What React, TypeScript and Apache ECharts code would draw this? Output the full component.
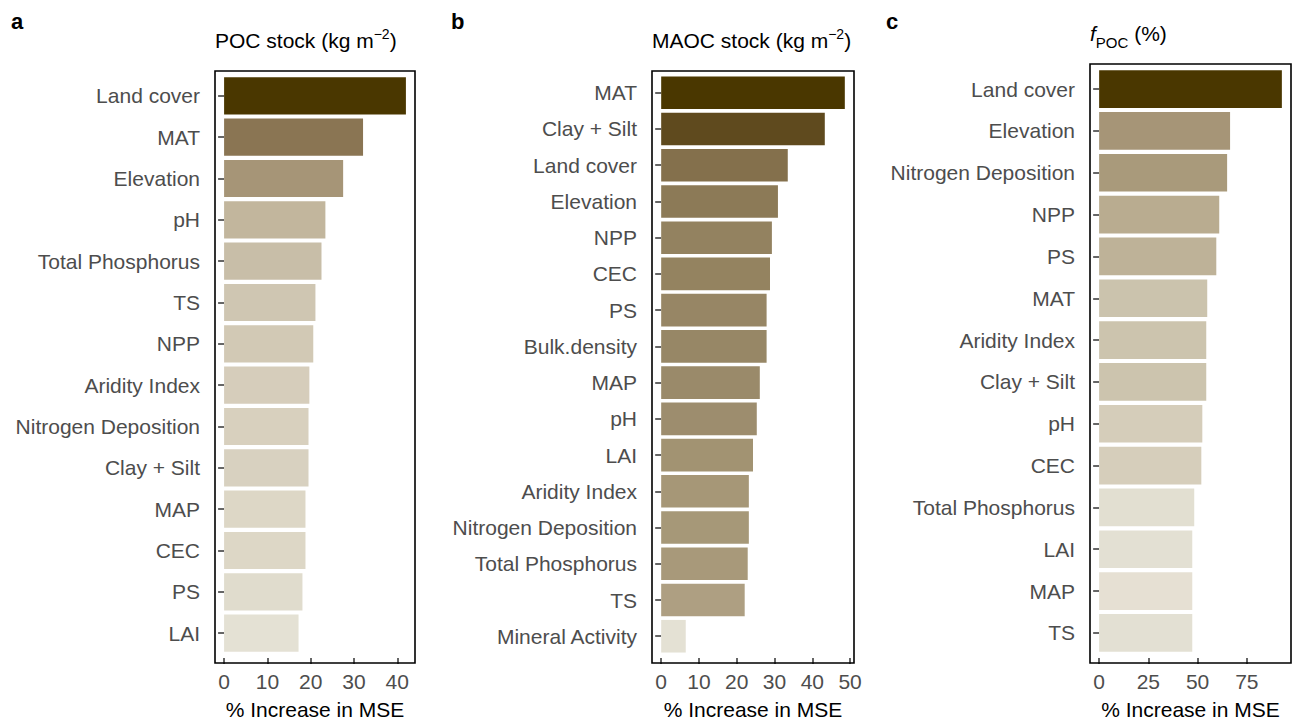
import React, { useEffect, useRef } from "react";
import * as echarts from "echarts";

const catsA = ["Land cover", "MAT", "Elevation", "pH", "Total Phosphorus", "TS", "NPP", "Aridity Index", "Nitrogen Deposition", "Clay + Silt", "MAP", "CEC", "PS", "LAI"];
const valsA = [42.0, 32.1, 27.5, 23.4, 22.5, 21.1, 20.6, 19.7, 19.5, 19.5, 18.8, 18.8, 18.1, 17.2];
const colsA = ["#4a3700", "#8a7553", "#a69577", "#c2b69d", "#c8bea8", "#cfc6b2", "#d2c9b5", "#d6cdbb", "#d8d0be", "#d8d1c0", "#ddd7c6", "#ddd7c6", "#e0dccd", "#e4e1d4"];

const catsB = ["MAT", "Clay + Silt", "Land cover", "Elevation", "NPP", "CEC", "PS", "Bulk.density", "MAP", "pH", "LAI", "Aridity Index", "Nitrogen Deposition", "Total Phosphorus", "TS", "Mineral Activity"];
const valsB = [48.6, 43.3, 33.5, 30.9, 29.3, 28.8, 27.9, 27.9, 26.1, 25.3, 24.3, 23.2, 23.2, 22.9, 22.1, 6.5];
const colsB = ["#4a3700", "#5f4a1e", "#84704c", "#8c7a57", "#938260", "#948360", "#978665", "#978766", "#9a8a6a", "#9d8d6e", "#a29372", "#a69777", "#a69878", "#a8997a", "#ae9f82", "#e4e1d4"];

const catsC = ["Land cover", "Elevation", "Nitrogen Deposition", "NPP", "PS", "MAT", "Aridity Index", "Clay + Silt", "pH", "CEC", "Total Phosphorus", "LAI", "MAP", "TS"];
const valsC = [92.8, 66.5, 65.0, 61.0, 59.5, 54.9, 54.4, 54.4, 52.4, 51.9, 48.3, 47.3, 47.3, 47.3];
const colsC = ["#4a3700", "#a69577", "#a99a7b", "#b9ac90", "#beb298", "#cbc3ad", "#ccc4ae", "#ccc4ae", "#d5cdba", "#d6cebb", "#e2dfd1", "#e3e0d3", "#e6e0d3", "#e3e0d3"];

const ticksA = [0, 10, 20, 30, 40];
const ticksB = [0, 10, 20, 30, 40, 50];
const ticksC = [0, 25, 50, 75];

const FONT = "'Liberation Sans', Arial, Helvetica, sans-serif";
const FS = 21;

export default function App() {
  const ref = useRef<HTMLDivElement>(null);
  useEffect(() => {
    if (!ref.current) return;
    const chart = echarts.init(ref.current, null, { renderer: "svg" });

    const panels = [
      { cats: catsA, vals: valsA, cols: colsA, ticks: ticksA, min: -2.1, max: 44.1, left: 215, width: 200, top: 75.2, height: 583.6, offset: 4.2 },
      { cats: catsB, vals: valsB, cols: colsB, ticks: ticksB, min: -2.43, max: 51.03, left: 652, width: 202, top: 74.65, height: 584.7, offset: 3.65 },
      { cats: catsC, vals: valsC, cols: colsC, ticks: ticksC, min: -4.64, max: 97.44, left: 1090, width: 201, top: 68.2, height: 590.6, offset: 4.2 },
    ];

    const frames = [
      { x: 215, y: 71, width: 200, height: 592 },
      { x: 652, y: 71, width: 202, height: 592 },
      { x: 1090, y: 64, width: 201, height: 599 },
    ];

    const titleRich = {
      t: { fontSize: FS, fontWeight: "normal", color: "#000", fontFamily: FONT, lineHeight: 26 },
      sup: { fontSize: 14, fontWeight: "normal", color: "#000", fontFamily: FONT, verticalAlign: "top", lineHeight: 14 },
      it: { fontSize: FS, fontWeight: "normal", color: "#000", fontFamily: FONT, fontStyle: "italic", lineHeight: 26 },
      sub: { fontSize: 15, fontWeight: "normal", color: "#000", fontFamily: FONT, verticalAlign: "bottom", lineHeight: 14, padding: [0, 0, -4, 0] },
    };

    const option: any = {
      animation: false,
      backgroundColor: "#fff",
      textStyle: { fontFamily: FONT },
      title: [
        { text: "{t|POC stock (kg m}{sup|−2}{t|)}", left: 215, top: 27, padding: 0, textStyle: { fontWeight: "normal", rich: titleRich } },
        { text: "{t|MAOC stock (kg m}{sup|−2}{t|)}", left: 652, top: 27, padding: 0, textStyle: { fontWeight: "normal", rich: titleRich } },
        { text: "{it|f}{sub|POC}{t| (%)}", left: 1090, top: 20, padding: 0, textStyle: { fontWeight: "normal", rich: titleRich } },
      ],
      grid: panels.map((p) => ({ left: p.left, top: p.top, width: p.width, height: p.height })),
      xAxis: panels.map((p, i) => ({
        type: "value",
        gridIndex: i,
        min: p.min,
        max: p.max,
        offset: p.offset,
        splitLine: { show: false },
        axisLine: { show: false },
        axisTick: { show: true, length: 6, customValues: p.ticks, lineStyle: { color: "#333", width: 1.5 } },
        axisLabel: { customValues: p.ticks, fontSize: FS, color: "#4d4d4d", margin: 13, fontFamily: FONT },
        name: "% Increase in MSE",
        nameLocation: "middle",
        nameGap: 41,
        nameTextStyle: { fontSize: FS, color: "#000", fontFamily: FONT },
      })),
      yAxis: panels.map((p, i) => ({
        type: "category",
        gridIndex: i,
        data: p.cats,
        inverse: true,
        axisLine: { show: false },
        axisTick: { show: true, length: 6, alignWithLabel: true, lineStyle: { color: "#333", width: 1.5 } },
        axisLabel: { fontSize: FS, color: "#4d4d4d", margin: 15, fontFamily: FONT, interval: 0 },
        splitLine: { show: false },
      })),
      series: panels.map((p, i) => ({
        type: "bar",
        xAxisIndex: i,
        yAxisIndex: i,
        barCategoryGap: "10%",
        data: p.vals.map((v, j) => ({ value: v, itemStyle: { color: p.cols[j] } })),
      })),
      graphic: [
        ...frames.map((f) => ({
          type: "rect",
          shape: f,
          z: 100,
          style: { fill: "none", stroke: "#000", lineWidth: 1.6 },
        })),
        { type: "text", x: 11, y: 10, z: 100, style: { text: "a", fill: "#000", font: "bold 22px " + FONT } },
        { type: "text", x: 451, y: 10, z: 100, style: { text: "b", fill: "#000", font: "bold 22px " + FONT } },
        { type: "text", x: 886, y: 10, z: 100, style: { text: "c", fill: "#000", font: "bold 22px " + FONT } },
      ],
    };

    chart.setOption(option);
    return () => chart.dispose();
  }, []);

  return (
    <div
      ref={ref}
      style={{ position: "fixed", left: 0, top: 0, width: 1292, height: 725, background: "#fff" }}
    />
  );
}
